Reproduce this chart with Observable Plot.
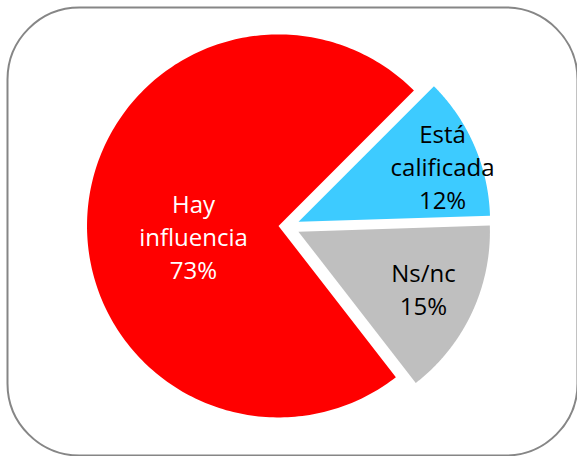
<!DOCTYPE html>
<html>
<head>
<meta charset="utf-8">
<script src="https://cdn.jsdelivr.net/npm/d3@7"></script>
<script src="https://cdn.jsdelivr.net/npm/@observablehq/plot@0.6"></script>
<style>
  html, body { margin: 0; padding: 0; background: #ffffff; }
  #chart svg { display: block; }
</style>
</head>
<body>
<div id="chart"></div>
<script>
// ---- data ----
const categories = ["Está calificada", "Ns/nc", "Hay influencia"];
const labelLines = ["Está\ncalificada", "Ns/nc", "Hay\ninfluencia"];
const values = [12, 15, 73];
const colors = ["#3DCBFF", "#BFBFBF", "#FF0000"];
const textColors = ["#000000", "#000000", "#FFFFFF"];

// ---- layout (pixels / fractions) ----
const W = 577, H = 456;
const margin = {top: 7, left: 7, right: 0, bottom: 1};
const centerPx = [287, 226];
const radiusPx = 191.5;
const startDeg = 45;                      // d3.pie start (clockwise from 12 o'clock)
const explode = [0.063, 0.063, 0.047];    // fraction of radius
const labelR = [0.807, 0.715, 0.447];     // label distance from slice apex
const labelRot = [-2.1, 1.1, 10.3];       // label angle tweak (deg, math convention)

const xDomain = [(margin.left - centerPx[0]) / radiusPx, (W - margin.right - centerPx[0]) / radiusPx];
const yDomain = [(centerPx[1] - (H - margin.bottom)) / radiusPx, (centerPx[1] - margin.top) / radiusPx];

const arcs = d3.pie().sort(null)
  .startAngle(startDeg * Math.PI / 180)
  .endAngle((startDeg + 360) * Math.PI / 180)(values);

const slicePts = [];
const labelPts = [];
arcs.forEach((a, i) => {
  const mid = Math.PI / 2 - (a.startAngle + a.endAngle) / 2;
  const ox = explode[i] * Math.cos(mid), oy = explode[i] * Math.sin(mid);
  slicePts.push({name: categories[i], x: ox, y: oy});
  const n = 240;
  for (let k = 0; k <= n; ++k) {
    const t = a.startAngle + (a.endAngle - a.startAngle) * k / n;
    const th = Math.PI / 2 - t;
    slicePts.push({name: categories[i], x: ox + Math.cos(th), y: oy + Math.sin(th)});
  }
  slicePts.push({name: categories[i], x: ox, y: oy});
  const lt = mid + labelRot[i] * Math.PI / 180;
  labelPts.push({
    name: categories[i],
    text: labelLines[i] + "\n" + values[i] + "%",
    x: ox + labelR[i] * Math.cos(lt),
    y: oy + labelR[i] * Math.sin(lt),
    color: textColors[i]
  });
});

const chart = Plot.plot({
  width: W,
  height: H,
  marginTop: margin.top,
  marginLeft: margin.left,
  marginRight: margin.right,
  marginBottom: margin.bottom,
  style: {background: "#ffffff"},
  x: {domain: xDomain, axis: null},
  y: {domain: yDomain, axis: null},
  color: {domain: categories, range: colors},
  marks: [
    Plot.frame({rx: 72, stroke: "#868686", strokeWidth: 2, fill: "#ffffff"}),
    Plot.line(slicePts, {x: "x", y: "y", z: "name", fill: "name", stroke: "none", curve: "linear"}),
    Plot.text(labelPts, {
      x: "x", y: "y", text: "text", fill: (d) => d.color,
      fontFamily: "Open Sans", fontSize: 24, lineHeight: 1.375, textAnchor: "middle"
    })
  ]
});
document.getElementById("chart").appendChild(chart);
</script>
</body>
</html>
